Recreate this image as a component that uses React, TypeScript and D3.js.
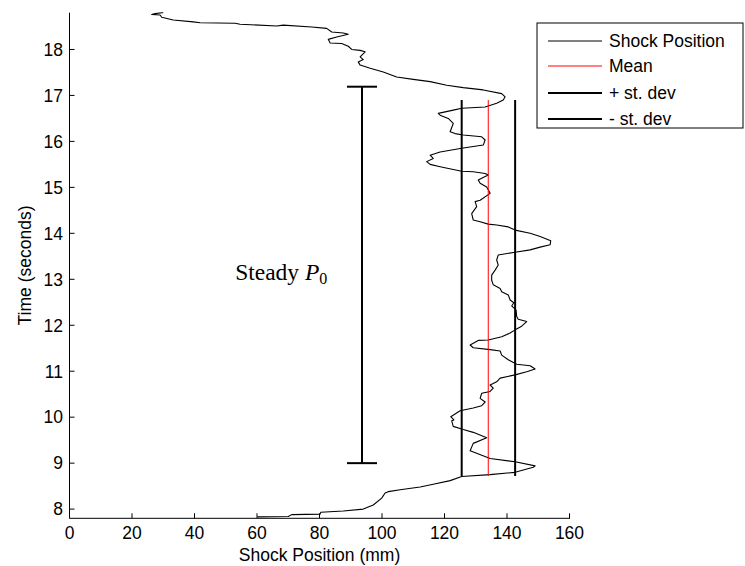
import React from "react";
import * as d3 from "d3";

// Shock position trace (mm) vs time (s), ordered bottom to top
const traceX = [
  60.1, 70.0, 71.1, 80.2, 80.4, 87.6, 94.0, 97.2, 99.9, 101.0, 102.0, 105.8, 112.2, 116.4, 121.8, 125.5,
  134.6, 142.6, 148.4, 149.0, 142.6, 134.6, 128.2, 129.2, 133.5, 129.2, 126.0,
  122.8, 122.3, 123.0, 122.0, 125.0, 129.2, 131.9, 133.0, 131.4, 131.9, 134.6, 135.6, 134.6, 136.7, 137.8,
  142.6, 146.3, 149.0, 147.4, 143.1, 140.4, 138.3, 137.8, 134.6, 129.2, 128.2,
  130.8, 134.0, 138.3, 141.0, 142.6, 144.7, 146.3, 143.6, 143.1, 142.9, 141.5, 142.2, 141.0, 140.4, 138.3,
  137.8, 135.6, 135.1, 135.1, 136.2, 137.2, 136.7, 137.2, 142.6, 147.4, 150.6, 153.8, 154.0, 150.6, 147.4,
  142.6, 140.4, 136.7, 134.0, 131.4, 129.2,
  128.7, 130.3, 129.8, 131.4, 134.6, 133.5, 131.4, 130.8, 131.9, 134.0, 133.0, 129.2, 125.5, 118.6, 115.4,
  114.3, 116.4, 115.4, 118.6, 125.5, 132.4, 133.0, 131.9, 126.0, 123.4, 121.8, 122.8, 121.2, 118.6, 118.0,
  122.8, 125.5, 133.0, 136.7, 138.8, 139.4, 138.3, 132.4, 126.0, 120.7, 115.4, 110.0, 104.7, 100.4, 96.2,
  93.0, 92.4, 94.0, 93.0, 94.6, 93.0, 90.3, 89.2, 87.1, 83.4, 82.8, 85.5, 89.2, 87.6, 83.9, 82.3, 77.5,
  68.4, 66.3, 54.6, 53.0, 41.8, 39.6, 33.2, 29.5, 29.0, 26.3, 27.4, 29.5, 30.0,
];
const traceT = [
  7.83, 7.84, 7.88, 7.89, 7.93, 7.96, 8.0, 8.09, 8.24, 8.35, 8.38, 8.42, 8.48, 8.54, 8.62, 8.71,
  8.75, 8.8, 8.91, 8.94, 9.03, 9.1, 9.27, 9.43, 9.55, 9.67, 9.73,
  9.8, 9.92, 9.94, 10.01, 10.14, 10.2, 10.25, 10.33, 10.41, 10.52, 10.56, 10.63, 10.7, 10.77, 10.85,
  10.92, 10.99, 11.05, 11.12, 11.15, 11.25, 11.35, 11.44, 11.47, 11.51, 11.57,
  11.67, 11.68, 11.75, 11.83, 11.9, 11.98, 12.08, 12.13, 12.19, 12.33, 12.42, 12.49, 12.55, 12.66, 12.73,
  12.8, 12.88, 12.98, 13.09, 13.2, 13.31, 13.42, 13.53, 13.59, 13.64, 13.7, 13.75, 13.84, 13.93, 14.0,
  14.07, 14.14, 14.18, 14.2, 14.25, 14.29,
  14.43, 14.58, 14.69, 14.72, 14.87, 15.01, 15.09, 15.16, 15.2, 15.27, 15.3, 15.34, 15.35, 15.45, 15.5,
  15.56, 15.63, 15.7, 15.77, 15.85, 15.92, 16.03, 16.1, 16.14, 16.17, 16.21, 16.39, 16.5, 16.57, 16.61,
  16.68, 16.72, 16.75, 16.83, 16.9, 16.97, 17.04, 17.12, 17.17, 17.22, 17.3, 17.35, 17.4, 17.51, 17.59,
  17.66, 17.73, 17.78, 17.84, 17.95, 17.98, 18.0, 18.07, 18.13, 18.14, 18.22, 18.27, 18.33, 18.36, 18.38, 18.46, 18.49,
  18.53, 18.51, 18.55, 18.57, 18.58, 18.6, 18.64, 18.7, 18.75, 18.76, 18.78, 18.8, 18.8,
];

const meanValue = 134;
const stdPlus = 142.6;
const stdMinus = 125.5;
const statSpan = [8.72, 16.9];

const steadyBarX = 93.6;
const steadyBarSpan = [9.0, 17.19];
const steadyCapHalf = 4.8;

const xTicks = [0, 20, 40, 60, 80, 100, 120, 140, 160];
const yTicks = [8, 9, 10, 11, 12, 13, 14, 15, 16, 17, 18];
const legendLabels = ["Shock Position", "Mean", "+ st. dev", "- st. dev"];

const W = 745;
const H = 566;
const FONT = "'Liberation Sans', Arial, Helvetica, sans-serif";

export default function App() {
  const x = d3.scaleLinear().domain([0, 160]).range([69.5, 569.5]);
  const y = d3.scaleLinear().domain([7.8, 18.8]).range([518.3, 12.7]);
  const pts = traceX.map((v, i) => [v, traceT[i]] as [number, number]);
  const line = d3
    .line<[number, number]>()
    .x((d) => x(d[0]))
    .y((d) => y(d[1]));
  const x0 = x(0);
  const y0 = y(7.8);
  const tickLen = 5;

  const legendStyles = [
    { stroke: "#000", width: 1 },
    { stroke: "#ff0000", width: 1 },
    { stroke: "#000", width: 2 },
    { stroke: "#000", width: 2 },
  ];
  const legY = [41, 66, 93, 119];

  return (
    <svg
      width={W}
      height={H}
      style={{ position: "absolute", left: 0, top: 0, background: "#fff" }}
      fontFamily={FONT}
    >
      <rect x={0} y={0} width={W} height={H} fill="#fff" />
      {/* trace */}
      <path d={line(pts) || ""} fill="none" stroke="#000" strokeWidth={1.1} strokeLinejoin="round" />
      {/* mean & stdev lines */}
      <line x1={x(meanValue)} x2={x(meanValue)} y1={y(statSpan[0])} y2={y(statSpan[1])} stroke="#ff0000" strokeWidth={1} />
      <line x1={x(stdPlus)} x2={x(stdPlus)} y1={y(statSpan[0])} y2={y(statSpan[1])} stroke="#000" strokeWidth={2} />
      <line x1={x(stdMinus)} x2={x(stdMinus)} y1={y(statSpan[0])} y2={y(statSpan[1])} stroke="#000" strokeWidth={2} />
      {/* steady bar */}
      <g stroke="#000" strokeWidth={2}>
        <line x1={x(steadyBarX)} x2={x(steadyBarX)} y1={y(steadyBarSpan[0])} y2={y(steadyBarSpan[1])} />
        <line x1={x(steadyBarX - steadyCapHalf)} x2={x(steadyBarX + steadyCapHalf)} y1={y(steadyBarSpan[0])} y2={y(steadyBarSpan[0])} />
        <line x1={x(steadyBarX - steadyCapHalf)} x2={x(steadyBarX + steadyCapHalf)} y1={y(steadyBarSpan[1])} y2={y(steadyBarSpan[1])} />
      </g>
      <text x={x(53)} y={y(12.98)} fontFamily="'Liberation Serif', 'DejaVu Serif', serif" fontSize={23.5} fill="#000">
        Steady <tspan fontStyle="italic">P</tspan>
        <tspan fontSize={16} dy={4}>0</tspan>
      </text>
      {/* axes */}
      <g stroke="#000" strokeWidth={1}>
        <line x1={x0} x2={x(160) + 0.5} y1={y0} y2={y0} />
        <line x1={x0} x2={x0} y1={y0} y2={y(18.8)} />
        {xTicks.map((t) => (
          <line key={"xt" + t} x1={x(t)} x2={x(t)} y1={y0} y2={y0 - tickLen} />
        ))}
        {yTicks.map((t) => (
          <line key={"yt" + t} x1={x0} x2={x0 + tickLen} y1={y(t)} y2={y(t)} />
        ))}
      </g>
      {xTicks.map((t) => (
        <text key={"xl" + t} x={x(t)} y={539} textAnchor="middle" fontSize={17.5} fill="#000">
          {t}
        </text>
      ))}
      {yTicks.map((t) => (
        <text key={"yl" + t} x={63} y={y(t)} dy="0.36em" textAnchor="end" fontSize={17.5} fill="#000">
          {t}
        </text>
      ))}
      <text x={(x(0) + x(160)) / 2} y={561} textAnchor="middle" fontSize={17.5} fill="#000">
        Shock Position (mm)
      </text>
      <text
        transform={`translate(31, ${(y(7.8) + y(18.8)) / 2}) rotate(-90)`}
        textAnchor="middle"
        fontSize={17.5}
        fill="#000"
      >
        Time (seconds)
      </text>
      {/* legend */}
      <rect x={537} y={23} width={206} height={105} fill="#fff" stroke="#000" strokeWidth={1} />
      {legendLabels.map((l, i) => (
        <g key={l}>
          <line x1={548} x2={602} y1={legY[i]} y2={legY[i]} stroke={legendStyles[i].stroke} strokeWidth={legendStyles[i].width} />
          <text x={609} y={legY[i]} dy="0.36em" fontSize={17.5} fill="#000">
            {l}
          </text>
        </g>
      ))}
    </svg>
  );
}
